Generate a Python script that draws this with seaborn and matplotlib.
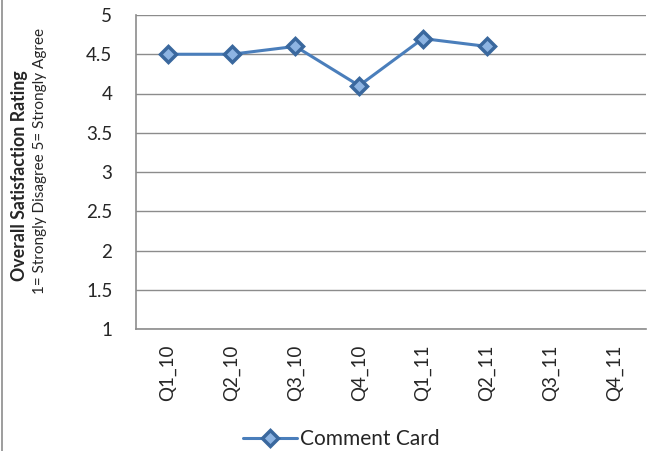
import numpy as np
import pandas as pd
import matplotlib
matplotlib.use('Agg')
import matplotlib.pyplot as plt
import seaborn as sns
from matplotlib.lines import Line2D

# Data
quarters = ['Q1_10', 'Q2_10', 'Q3_10', 'Q4_10', 'Q1_11', 'Q2_11', 'Q3_11', 'Q4_11']
comment_card = [4.5, 4.5, 4.6, 4.1, 4.7, 4.6, np.nan, np.nan]
y_ticks = [1, 1.5, 2, 2.5, 3, 3.5, 4, 4.5, 5]
y_tick_labels = ['1', '1.5', '2', '2.5', '3', '3.5', '4', '4.5', '5']

df = pd.DataFrame({'pos': np.arange(len(quarters)), 'quarter': quarters, 'score': comment_card})
df = df.dropna()

sns.set_style('white')
plt.rcParams['font.family'] = ['Lato', 'DejaVu Sans']

fig = plt.figure(figsize=(6.48, 4.51), dpi=100)
ax = fig.add_axes([136/648, 1 - 329/451, 510/648, 314/451])

sns.lineplot(data=df, x='pos', y='score', ax=ax, color='#4A7EBB', linewidth=2.2,
             marker='D', markersize=8, markerfacecolor='#8DB4E2',
             markeredgecolor='#3A689E', markeredgewidth=2.5, label='Comment Card')

ax.set_xlim(-0.5, len(quarters) - 0.5)
ax.set_ylim(1, 5)
ax.set_yticks(y_ticks)
ax.set_yticklabels(y_tick_labels, fontsize=13.5)
ax.set_xticks(np.arange(len(quarters)))
ax.set_xticklabels(quarters, rotation=90, fontsize=13.5)
ax.tick_params(axis='y', length=0, pad=17)
ax.tick_params(axis='x', length=0, pad=11)
ax.set_xlabel('')
ax.set_ylabel('')

ax.grid(axis='y', color='#8C8C8C', linewidth=1)
ax.set_axisbelow(True)
for side in ['top', 'right']:
    ax.spines[side].set_visible(False)
for side in ['left', 'bottom']:
    ax.spines[side].set_color('#8C8C8C')
    ax.spines[side].set_linewidth(1.2)

fig.text(20/648, 1 - 176/451, 'Overall Satisfaction Rating', rotation=90,
         ha='center', va='center', fontsize=12.8, fontweight='bold')
fig.text(40/648, 1 - 161/451, '1= Strongly Disagree 5= Strongly Agree', rotation=90,
         ha='center', va='center', fontsize=11)

ax.legend(loc='center', bbox_to_anchor=(341/648, 1 - 439/451), bbox_transform=fig.transFigure,
          frameon=False, fontsize=15, handlelength=2.6, handletextpad=0.15)

# chart frame on the left edge
fig.add_artist(Line2D([1.5/648, 1.5/648], [0, 1], color='#8C8C8C', linewidth=1.2))

fig.savefig('out.png', dpi=100)
